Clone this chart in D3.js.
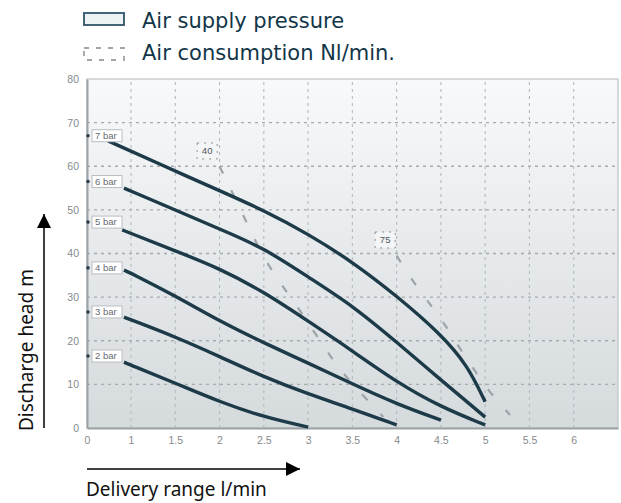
<!DOCTYPE html>
<html><head><meta charset="utf-8">
<script src="https://cdn.jsdelivr.net/npm/d3@7"></script>
<style>body{margin:0;background:#fff;} svg{display:block;}</style>
</head><body>
<svg id="c" width="621" height="503"></svg>
<script>
// ---- data ----
const xTicks = [0, 1, 1.5, 2, 2.5, 3, 3.5, 4, 4.5, 5, 5.5, 6];
const yTicks = [0, 10, 20, 30, 40, 50, 60, 70, 80];
const pressureLabels = ["7 bar", "6 bar", "5 bar", "4 bar", "3 bar", "2 bar"];
const labelHeads = [67, 56.5, 47.2, 36.7, 26.6, 16.5];
const bar7 = [[0.48,65.8],[1.3,60.7],[2.0,54.4],[2.5,49.9],[3.0,44.5],[3.5,38.1],[4.0,30.3],[4.5,21.5],[4.8,14.4],[5.0,6.0]];
const bar6 = [[0.84,55.0],[1.0,54.3],[1.5,50.0],[2.0,45.6],[2.5,41.3],[3.0,34.6],[3.5,28.1],[4.0,19.7],[4.5,11.0],[5.0,2.5]];
const bar5 = [[0.8,45.4],[1.0,44.6],[1.5,40.6],[2.0,36.6],[2.5,31.2],[3.0,24.5],[3.5,17.7],[4.0,10.5],[4.5,4.8],[5.0,0.7]];
const bar4 = [[0.84,36.2],[1.0,35.5],[1.5,30.3],[2.0,24.5],[2.5,19.5],[3.0,14.9],[3.5,10.1],[4.0,5.5],[4.5,1.8]];
const bar3 = [[0.84,25.4],[1.0,24.8],[1.5,20.9],[2.0,16.4],[2.5,11.7],[3.0,7.8],[3.5,4.4],[4.0,0.7]];
const bar2 = [[0.84,15.1],[1.0,14.4],[1.5,10.3],[2.0,6.0],[2.5,2.5],[3.0,0.2]];
const pressureCurves = [bar7, bar6, bar5, bar4, bar3, bar2];
const consumptionLabels = ["40", "75"];
const consumptionLabelPos = [[1.86, 63.5], [3.87, 43.1]];
const air40 = [[2.0,60.0],[2.31,47.0],[2.49,39.2],[2.70,32.8],[2.88,27.8],[3.19,18.3],[3.38,12.6],[3.85,2.5]];
const air75 = [[4.0,39.5],[4.21,32.8],[4.40,27.8],[4.55,23.6],[4.71,18.3],[4.90,12.6],[5.03,8.7],[5.28,3.0]];
const consumptionCurves = [air40, air75];
const legendItems = ["Air supply pressure", "Air consumption Nl/min."];
const xTitle = "Delivery range l/min";
const yTitle = "Discharge head m";

// ---- drawing ----
const svg = d3.select("#c");
const x = d3.scaleLinear().domain([0, 1, 6.5]).range([87, 131, 618]);
const y = d3.scaleLinear().domain([0, 80]).range([428, 79]);

const defs = svg.append("defs");
const grad = defs.append("linearGradient").attr("id","bg").attr("x1",0).attr("y1",0).attr("x2",0).attr("y2",1);
grad.append("stop").attr("offset","0%").attr("stop-color","#f8f9fa");
grad.append("stop").attr("offset","100%").attr("stop-color","#d5dadd");
const mk = defs.append("marker").attr("id","arr").attr("viewBox","0 0 10 10").attr("refX",10).attr("refY",5)
  .attr("markerWidth",20).attr("markerHeight",14).attr("markerUnits","userSpaceOnUse").attr("orient","auto");
mk.append("path").attr("d","M0,0L10,5L0,10Z").attr("fill","#000");

// plot background
svg.append("rect").attr("x", x(0)).attr("y", y(80)).attr("width", x(6.5)-x(0)).attr("height", y(0)-y(80))
  .attr("fill","url(#bg)").attr("stroke","#bfc4c7").attr("stroke-width",1.2);

// grid
svg.append("g").selectAll("line").data(yTicks.filter(d => d > 0 && d < 80)).join("line")
  .attr("x1", x(0)).attr("x2", x(6.5)).attr("y1", d => y(d)).attr("y2", d => y(d))
  .attr("stroke","#a6abaf").attr("stroke-width",1.4).attr("stroke-dasharray","3,4");
svg.append("g").selectAll("line").data(xTicks.filter(d => d > 0)).join("line")
  .attr("x1", d => x(d)).attr("x2", d => x(d)).attr("y1", y(0)).attr("y2", y(80))
  .attr("stroke","#b5babd").attr("stroke-width",1.1).attr("stroke-dasharray","3,4");

// axes
const xAxis = d3.axisBottom(x).tickValues(xTicks).tickFormat(d => String(d)).tickSize(0).tickPadding(9);
const gx = svg.append("g").attr("transform", `translate(0,${y(0)})`).call(xAxis);
gx.select(".domain").attr("stroke","#9ba1a5").attr("stroke-width",2);
gx.selectAll("text").attr("fill","#858a8e").attr("font-family","Liberation Sans, Arial, sans-serif").attr("font-size",10.5);
const yAxis = d3.axisLeft(y).tickValues(yTicks).tickSize(0).tickPadding(8);
const gy = svg.append("g").attr("transform", `translate(${x(0)},0)`).call(yAxis);
gy.select(".domain").attr("stroke","#9ba1a5").attr("stroke-width",2);
gy.selectAll("text").attr("fill","#858a8e").attr("font-family","Liberation Sans, Arial, sans-serif").attr("font-size",10.5);

// air consumption dashed lines
const dashLine = d3.line().x(d => x(d[0])).y(d => y(d[1])).curve(d3.curveBasis);
svg.append("g").selectAll("path").data(consumptionCurves).join("path")
  .attr("d", dashLine).attr("fill","none").attr("stroke","#9ea3a7").attr("stroke-width",2.2)
  .attr("stroke-dasharray","8,19");

// consumption labels
const cl = svg.append("g").selectAll("g").data(consumptionLabels).join("g")
  .attr("transform", (d,i) => `translate(${x(consumptionLabelPos[i][0])},${y(consumptionLabelPos[i][1])})`);
cl.append("rect").attr("x",-10).attr("y",-8).attr("width",20).attr("height",16)
  .attr("fill","#f4f5f6").attr("stroke","#8a8f93").attr("stroke-width",1).attr("stroke-dasharray","2,5");
cl.append("text").text(d => d).attr("text-anchor","middle").attr("dy","0.35em")
  .attr("font-family","Liberation Sans, Arial, sans-serif").attr("font-size",9.5).attr("fill","#4f5458");

// pressure curves
const line = d3.line().x(d => x(d[0])).y(d => y(d[1])).curve(d3.curveBasis);
svg.append("g").selectAll("path").data(pressureCurves).join("path")
  .attr("d", line).attr("fill","none").attr("stroke","#1c3a48").attr("stroke-width",3.4)
  .attr("stroke-linecap","butt");

// pressure labels
const pl = svg.append("g").selectAll("g").data(pressureLabels).join("g")
  .attr("transform", (d,i) => `translate(0,${y(labelHeads[i])})`);
pl.append("circle").attr("cx", x(0)+1).attr("cy",0).attr("r",1.8).attr("fill","#2b3f4a");
pl.append("rect").attr("x", x(0)+5).attr("y",-6).attr("width",30).attr("height",12)
  .attr("fill","#ffffff").attr("stroke","#b9bec2").attr("stroke-width",1);
pl.append("text").text(d => d).attr("x", x(0)+8).attr("dy","0.35em")
  .attr("font-family","Liberation Sans, Arial, sans-serif").attr("font-size",9.5).attr("fill","#666b6f");

// legend
const lg = svg.append("g");
lg.append("rect").attr("x",84).attr("y",13).attr("width",40).attr("height",12)
  .attr("fill","#edf2f5").attr("stroke","#2f5569").attr("stroke-width",1.8);
lg.append("rect").attr("x",84).attr("y",48).attr("width",40).attr("height",12)
  .attr("fill","none").attr("stroke","#a0a5a9").attr("stroke-width",1.8).attr("stroke-dasharray","5,7");
lg.selectAll("text").data(legendItems).join("text")
  .attr("x",142).attr("y",(d,i) => 28 + i*32).text(d => d)
  .attr("font-family","DejaVu Sans, Verdana, sans-serif").attr("font-size",21).attr("fill","#123648");

// axis titles with arrows
svg.append("line").attr("x1",87).attr("y1",469).attr("x2",300).attr("y2",469)
  .attr("stroke","#000").attr("stroke-width",1.5).attr("marker-end","url(#arr)");
svg.append("text").attr("x",86).attr("y",496).text(xTitle)
  .attr("font-family","Noto Sans, Open Sans, sans-serif").attr("font-size",19).attr("fill","#111");
svg.append("line").attr("x1",44).attr("y1",428).attr("x2",44).attr("y2",214)
  .attr("stroke","#000").attr("stroke-width",1.5).attr("marker-end","url(#arr)");
svg.append("text").attr("transform","translate(33,431) rotate(-90)").text(yTitle)
  .attr("font-family","Noto Sans, Open Sans, sans-serif").attr("font-size",19).attr("fill","#111");
</script>
</body></html>
